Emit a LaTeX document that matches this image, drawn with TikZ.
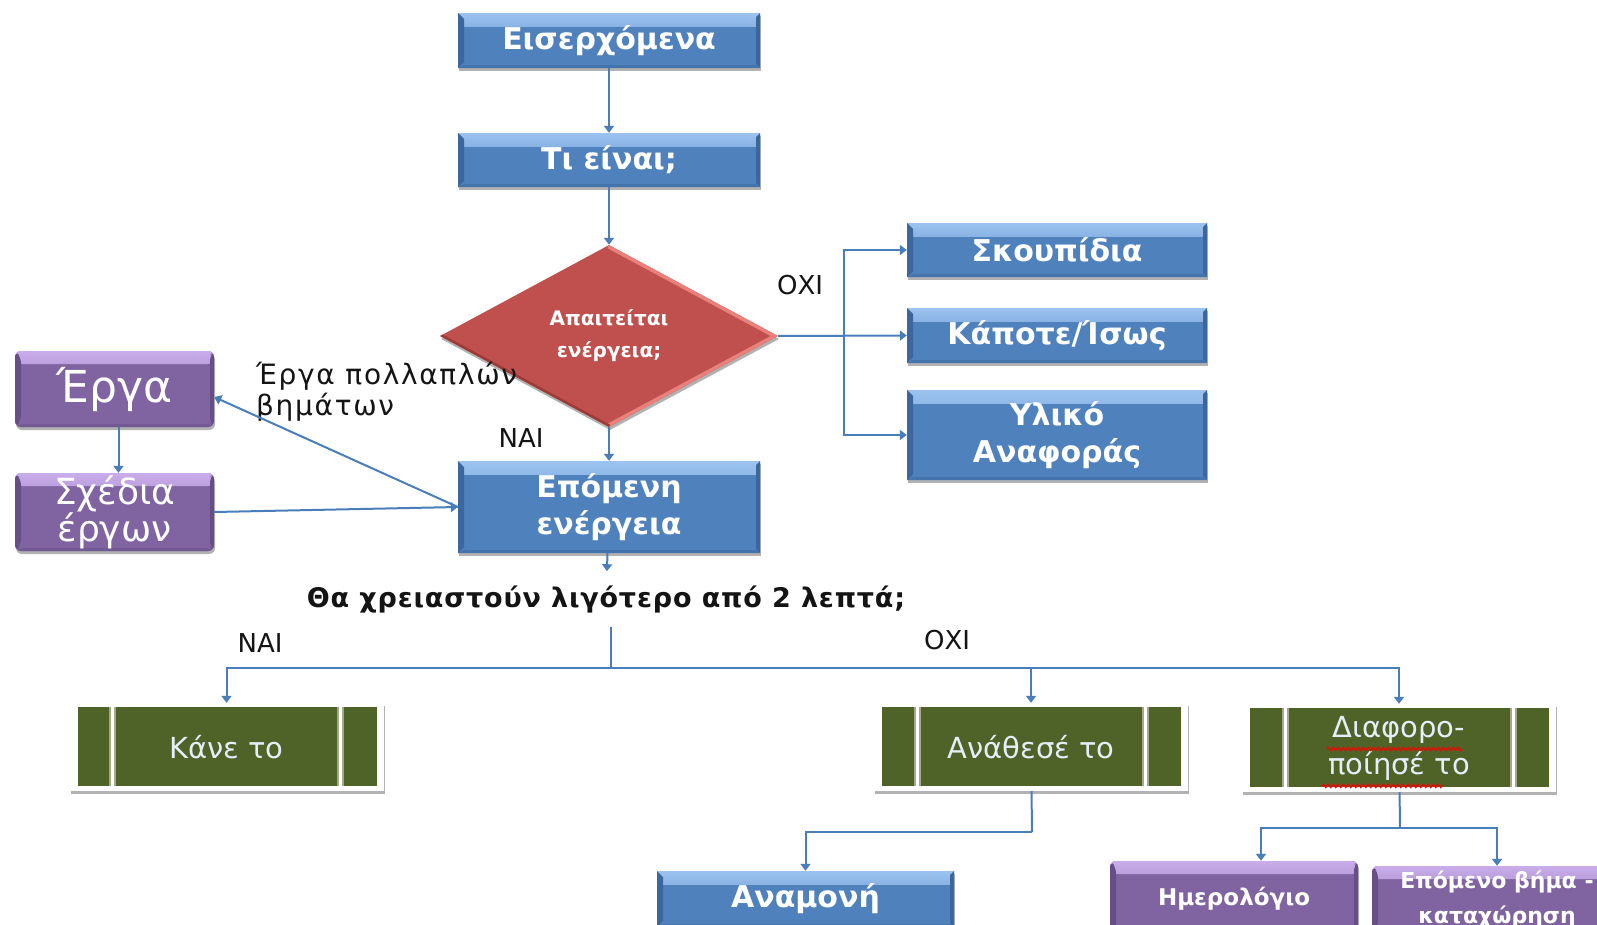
\documentclass[tikz,border=0pt]{standalone}
\usepackage{fontspec}
\setmainfont{DejaVu Sans}
\newfontfamily\spacedbold[LetterSpace=3]{DejaVu Sans Bold}
\newfontfamily\spacedreg[LetterSpace=6]{DejaVu Sans}
\usetikzlibrary{shapes.geometric,shadows,arrows.meta,calc,decorations.pathmorphing}

\definecolor{bmain}{HTML}{4F81BD}
\definecolor{blight}{HTML}{9CC3F0}
\definecolor{bdark}{HTML}{3B679E}
\definecolor{pmain}{HTML}{8064A2}
\definecolor{plight}{HTML}{C9ADEB}
\definecolor{pdark}{HTML}{664E86}
\definecolor{rmain}{HTML}{C0504D}
\definecolor{rlight}{HTML}{E8807C}
\definecolor{rdark}{HTML}{9E3B38}
\definecolor{gmain}{HTML}{4F6228}
\definecolor{gline}{HTML}{A3AA8C}
\definecolor{gtext}{HTML}{E4EEF8}
\definecolor{connblue}{HTML}{4A7EBB}
\definecolor{ink}{HTML}{141414}

\tikzset{
  bevel/.style n args={3}{fill=#1, path picture={
    \shade[top color=#2, bottom color=#1]
      (path picture bounding box.north west) rectangle ([yshift=-13pt]path picture bounding box.north east);
    \fill[#3] (path picture bounding box.north west) -- ([xshift=6pt,yshift=-6pt]path picture bounding box.north west)
      -- ([xshift=6pt,yshift=6pt]path picture bounding box.south west) -- (path picture bounding box.south west) -- cycle;
    \fill[#3] (path picture bounding box.north east) -- ([xshift=-4pt,yshift=-4pt]path picture bounding box.north east)
      -- ([xshift=-4pt,yshift=4pt]path picture bounding box.south east) -- (path picture bounding box.south east) -- cycle;
    \fill[#3!50!#1] (path picture bounding box.south west) -- ([xshift=6pt,yshift=3pt]path picture bounding box.south west)
      -- ([xshift=-4pt,yshift=3pt]path picture bounding box.south east) -- (path picture bounding box.south east) -- cycle;
  }},
  softshadow/.style={drop shadow={shadow xshift=1pt, shadow yshift=-3pt, opacity=.3, fill=black}},
  bluebox/.style={rectangle, bevel={bmain}{blight}{bdark}, softshadow, text=white, inner sep=0pt,
    align=center, font=\bfseries\fontsize{30}{37}\selectfont},
  purplebox/.style={rectangle, rounded corners=6pt, bevel={pmain}{plight}{pdark}, softshadow, text=white,
    inner sep=0pt, align=center},
  decision/.style={diamond, aspect=2, inner sep=0pt, minimum width=338pt, minimum height=182pt,
    fill=rmain, softshadow, text=white, align=center, font=\bfseries\fontsize{20}{32}\selectfont,
    path picture={
      \draw[rlight, line width=7pt] (path picture bounding box.north) -- (path picture bounding box.east) -- (path picture bounding box.south);
      \draw[rdark, line width=5pt] (path picture bounding box.west) -- (path picture bounding box.south);
    }},
  greenbox/.style={rectangle, fill=white, softshadow, inner sep=0pt, minimum width=314pt, minimum height=88pt,
    text=gtext, align=center, font=\fontsize{29}{37}\selectfont,
    path picture={
      \fill[gmain] ([xshift=8pt,yshift=-4pt]path picture bounding box.north west)
        rectangle ([xshift=-7pt,yshift=5pt]path picture bounding box.south east);
      \foreach \s/\a in {43pt/west,-43pt/east}{
        \draw[gline, line width=7pt] ([xshift=\s,yshift=-4pt]path picture bounding box.north \a)
          -- ([xshift=\s,yshift=5pt]path picture bounding box.south \a);
        \draw[white, line width=3pt] ([xshift=\s,yshift=-4pt]path picture bounding box.north \a)
          -- ([xshift=\s,yshift=5pt]path picture bounding box.south \a);
      }
    }},
  lbl/.style={text=ink, inner sep=0pt, font=\fontsize{26}{31}\selectfont},
  connline/.style={draw=connblue, line width=2pt},
  conn/.style={connline, -{Triangle[length=7pt,width=10pt]}},
  squiggle/.style={draw=red, line width=1.2pt, decorate,
    decoration={zigzag, amplitude=1.6pt, segment length=5pt}}
}

\begin{document}
\begin{tikzpicture}[x=1pt, y=-1pt]
\useasboundingbox (0,0) rectangle (1597,924);
\clip (0,0) rectangle (1597,924);
\fill[white] (0,0) rectangle (1597,924);

% main column
\node[bluebox, minimum width=302pt, minimum height=55pt] (in) at (609,40.5) {Εισερχόμενα};
\node[bluebox, minimum width=302pt, minimum height=54pt] (what) at (609,160) {Τι είναι;};
\node[decision] (act) at (609,336) {Απαιτείται\\ενέργεια;};
\node[bluebox, minimum width=302pt, minimum height=92pt] (next) at (609,507) {Επόμενη\\ενέργεια};

% non-actionable items
\node[bluebox, minimum width=300pt, minimum height=54pt] (trash) at (1057,250) {Σκουπίδια};
\node[bluebox, minimum width=300pt, minimum height=55pt] (maybe) at (1057,335.5) {Κάποτε/Ίσως};
\node[bluebox, minimum width=300pt, minimum height=90pt] (ref) at (1057,435) {Υλικό\\Αναφοράς};

% projects
\node[purplebox, minimum width=199pt, minimum height=76pt, font=\fontsize{44}{44}\selectfont] (proj) at (114.5,389) {Έργα};
\node[purplebox, minimum width=199pt, minimum height=78pt, font=\fontsize{36}{34}\selectfont] (plans) at (114.5,512) {Σχέδια\\έργων};

% two-minute rule
\node[text=ink, font=\spacedbold\fontsize{27}{30}\selectfont, inner xsep=0pt, inner ysep=14pt] (q) at (606,599)
  {Θα χρειαστούν λιγότερο από 2 λεπτά;};

\node[greenbox] (do) at (226.5,747) {Κάνε το};
\node[greenbox] (deleg) at (1031,747) {Ανάθεσέ το};
\node[greenbox] (defer) at (1399,748) {Διαφορο-\\ποίησέ το};

\node[bluebox, minimum width=297pt, minimum height=56pt] (wait) at (805.5,899) {Αναμονή};
\node[purplebox, minimum width=248pt, minimum height=76pt, font=\bfseries\fontsize{23}{35}\selectfont] (cal) at (1234,899) {Ημερολόγιο};
\node[purplebox, minimum width=250pt, minimum height=67pt, font=\bfseries\fontsize{22}{35}\selectfont] (nstep) at (1497,899.5) {Επόμενο βήμα -\\καταχώρηση};

% spelling marks under the split word
\draw[squiggle] ([xshift=-72pt,yshift=-1pt]defer.center) -- ([xshift=63pt,yshift=-1pt]defer.center);
\draw[squiggle] ([xshift=-77pt,yshift=-38pt]defer.center) -- ([xshift=44pt,yshift=-38pt]defer.center);

% labels
\node[lbl] (no1) at (800,285) {ΟΧΙ};
\node[lbl] (yes1) at (521,438) {ΝΑΙ};
\node[lbl, align=left, anchor=west, font=\spacedreg\fontsize{28}{31}\selectfont] (multi) at (256,392) {Έργα πολλαπλών\\βημάτων};
\node[lbl] (yes2) at (260,643) {ΝΑΙ};
\node[lbl] (no2) at (947,640) {ΟΧΙ};

% connectors
\draw[conn] (in) -- (what);
\draw[conn] (what) -- (act);
\draw[conn] (act.east) -- (maybe.west);
\coordinate (fork) at (844,336);
\draw[conn] (fork) |- (trash.west);
\draw[conn] (fork) |- (ref.west);
\draw[conn] (act) -- (next);
\draw[conn] (next.west) -- ([yshift=-8pt]proj.east);
\draw[conn] (plans.east) -- (next.west);
\draw[conn] ([xshift=4pt]proj.south) -- ([xshift=4pt]plans.north);
\draw[conn] (next) -- (q);

\coordinate (split) at (611,668);
\draw[connline] ([xshift=5pt]q.south) -- (split);
\draw[conn] (split) -| (do);
\draw[conn] (split) -| (deleg);
\draw[conn] (split) -| (defer);

\coordinate (wsplit) at (1032,832);
\draw[connline] (deleg) -- (wsplit);
\draw[conn] (wsplit) -| (wait);

\coordinate (dsplit) at (1400,828);
\draw[connline] (defer) -- (dsplit);
\draw[conn] (dsplit) -| ([xshift=27pt]cal.north);
\draw[conn] (dsplit) -| (nstep.north);
\end{tikzpicture}
\end{document}
